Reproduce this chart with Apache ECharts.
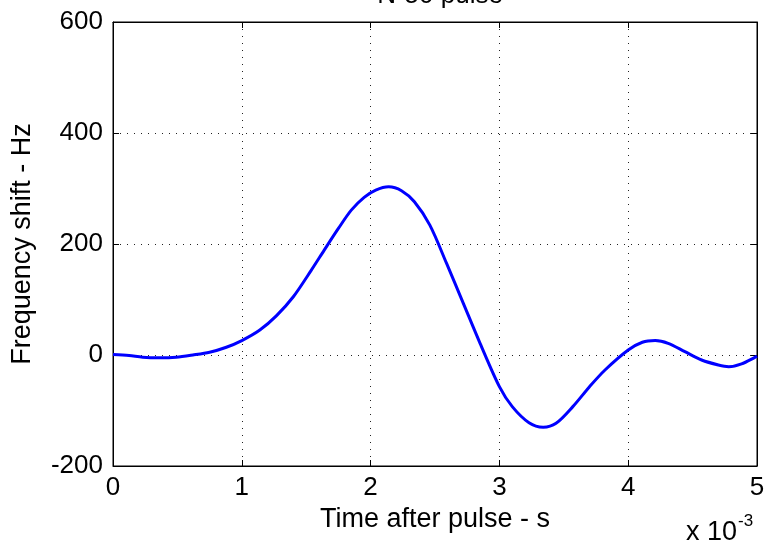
<!DOCTYPE html>
<html>
<head>
<meta charset="utf-8">
<script src="https://cdn.jsdelivr.net/npm/echarts@6/dist/echarts.min.js"></script>
<style>
html, body { margin: 0; padding: 0; background: #fff; }
#chart { width: 768px; height: 544px; }
</style>
</head>
<body>
<div id="chart"></div>
<script>
// time after pulse, in units of 1e-3 s
var timeMs = [0, 0.125, 0.23, 0.36, 0.49, 0.62, 0.75, 0.88, 1.0, 1.14, 1.27, 1.40, 1.54, 1.64, 1.75, 1.85, 1.95,
	2.04, 2.14, 2.24, 2.34, 2.46, 2.59, 2.72, 2.85, 3.0, 3.10, 3.23, 3.34, 3.44, 3.57, 3.70, 3.82,
	4.0, 4.11, 4.21, 4.31, 4.44, 4.57, 4.70, 4.78, 4.88, 5.0];
// frequency shift, Hz
var freqHz = [1, -1, -4, -5, -4, 0, 5, 14, 26, 45, 71, 105, 153, 189, 228, 261, 284,
	297, 303, 296, 276, 234, 165, 93, 21, -57, -93, -122, -130, -123, -93, -57, -27,
	9, 23, 26, 21, 6, -9, -18, -21, -16, -2];
var xTicks = [0, 1, 2, 3, 4, 5];
var yTicks = [-200, 0, 200, 400, 600];

var points = [];
for (var i = 0; i < timeMs.length; i++) {
	points.push([timeMs[i], freqHz[i]]);
}

var font = 'Liberation Sans, Arial, sans-serif';
var dotted = { color: '#222', width: 1, type: [1, 6] };

var myChart = echarts.init(document.getElementById('chart'));
var option = {
	backgroundColor: '#fff',
	animation: false,
	title: {
		text: 'N-50 pulse',
		left: 435,
		textAlign: 'center',
		top: -22,
		textStyle: { fontFamily: font, fontSize: 26, fontWeight: 'normal', color: '#000' }
	},
	grid: {
		left: 113, right: 11, top: 22, bottom: 78,
		show: true, borderColor: '#000', borderWidth: 1
	},
	xAxis: [{
		type: 'value',
		min: 0, max: 5, interval: 1,
		name: 'Time after pulse - s',
		nameLocation: 'middle',
		nameGap: 38,
		nameTextStyle: { fontFamily: font, fontSize: 27, color: '#000' },
		axisLine: { onZero: false, lineStyle: { color: '#000', width: 1 } },
		axisTick: { inside: true, length: 6, lineStyle: { color: '#000' } },
		axisLabel: { fontFamily: font, fontSize: 26, color: '#000', margin: 9,
			formatter: function (v) { return xTicks.indexOf(v) >= 0 ? String(v) : ''; } },
		splitLine: { show: true, lineStyle: dotted }
	}, {
		type: 'value', position: 'top',
		min: 0, max: 5, interval: 1,
		axisLine: { onZero: false, lineStyle: { color: '#000' } },
		axisTick: { inside: true, length: 6, lineStyle: { color: '#000' } },
		axisLabel: { show: false },
		splitLine: { show: false }
	}],
	yAxis: [{
		type: 'value',
		min: -200, max: 600, interval: 200,
		name: 'Frequency shift - Hz',
		nameLocation: 'middle',
		nameGap: 77,
		nameTextStyle: { fontFamily: font, fontSize: 27, color: '#000' },
		axisLine: { show: true, onZero: false, lineStyle: { color: '#000', width: 1 } },
		axisTick: { show: true, inside: true, length: 6, lineStyle: { color: '#000' } },
		axisLabel: { fontFamily: font, fontSize: 26, color: '#000', margin: 10,
			formatter: function (v) { return yTicks.indexOf(v) >= 0 ? String(v) : ''; } },
		splitLine: { show: true, lineStyle: dotted }
	}, {
		type: 'value', position: 'right',
		min: -200, max: 600, interval: 200,
		axisLine: { show: true, onZero: false, lineStyle: { color: '#000' } },
		axisTick: { show: true, inside: true, length: 6, lineStyle: { color: '#000' } },
		axisLabel: { show: false },
		splitLine: { show: false }
	}],
	graphic: [{
		type: 'text',
		left: 686, top: 513,
		style: {
			text: '{b|x 10}{s|-3}',
			rich: {
				b: { fontFamily: font, fontSize: 27, fill: '#000', padding: [10, 0, 0, 0] },
				s: { fontFamily: font, fontSize: 17, fill: '#000', padding: [0, 0, 12, 1] }
			}
		}
	}],
	series: [{
		type: 'line',
		data: points,
		smooth: 0.3,
		symbol: 'none',
		lineStyle: { color: '#0000ff', width: 3 }
	}]
};
myChart.setOption(option);
</script>
</body>
</html>
